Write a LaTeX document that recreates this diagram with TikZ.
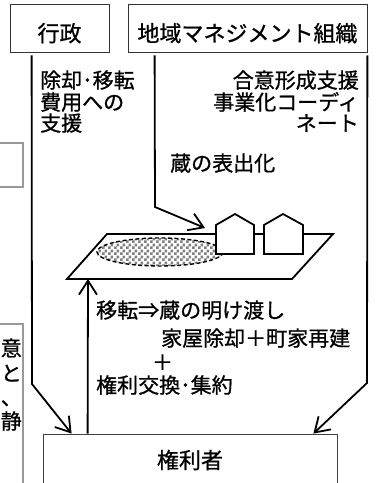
\documentclass[tikz,border=0pt]{standalone}
\usepackage{fontspec}
\newfontfamily\cjk[FakeBold=0.9]{Noto Sans CJK JP}
\usetikzlibrary{arrows.meta,patterns,calc}
\pgfdeclarepatternformonly{kurapat}{\pgfpointorigin}{\pgfqpoint{6pt}{6pt}}{\pgfqpoint{6pt}{6pt}}{%
  \pgfpathrectangle{\pgfpointorigin}{\pgfqpoint{3pt}{3pt}}%
  \pgfpathrectangle{\pgfqpoint{3pt}{3pt}}{\pgfqpoint{3pt}{3pt}}%
  \pgfusepath{fill}}
\tikzset{
  jfont/.style={font=\cjk\fontsize{21}{21}\selectfont},
  boxfont/.style={font=\cjk\fontsize{22}{22}\selectfont},
  orgbox/.style={draw=black!80, line width=0.8pt, inner sep=0pt, minimum height=48pt,
    text height=29.5pt, text depth=2.5pt, boxfont},
  ownerbox/.style={draw=black!75, line width=0.8pt, inner sep=0pt, minimum height=52pt, boxfont},
  sidebox/.style={draw=black!40, line width=1.2pt, inner sep=0pt, minimum width=63pt},
  lbl/.style={inner sep=0pt, jfont},
  arr/.style={line width=1.8pt, -{Straight Barb[length=14pt,width=18pt]}},
  siteline/.style={line width=1.8pt, line join=miter},
}
\begin{document}
\begin{tikzpicture}[x=1pt,y=-1pt]
\useasboundingbox (0,0) rectangle (378,483);
\clip (0,0) rectangle (378,483);

% boxes
\node[orgbox, minimum width=99pt] (gyosei) at (59.5,28) {行政};
\node[orgbox, minimum width=239pt] (chiiki) at (247.5,28) {地域マネジメント組織};
\node[ownerbox, minimum width=294pt] (kenri) at (190,460) {権利者};
\node[sidebox, minimum height=44pt] (sideA) at (-8.5,165) {};
\node[sidebox, minimum height=196pt] (sideB) at (-8.5,422) {};

% text cut at the left side
\node[lbl, anchor=base east] (sb1) at (22,356) {意};
\node[lbl, anchor=base east] (sb2) at (22,381) {と};
\node[lbl, anchor=base east] (sb3) at (22,405) {、};
\node[lbl, anchor=base east] (sb4) at (22,429) {静};

% site: parallelogram, kura area, houses
\draw[siteline] (107,234) coordinate (pTL) -- (333,234) coordinate (pTR)
  -- (292,279) coordinate (pBR) -- (67,279) coordinate (pBL) -- cycle;
\fill[pattern=kurapat, pattern color=black!50] (160,252) ellipse [x radius=63, y radius=14];
\draw[line width=1.4pt, dash pattern=on 4pt off 2.5pt] (160,252) coordinate (kura) ellipse [x radius=63, y radius=14];
\draw[siteline, fill=white] (216,254) -- (216,225) -- (235,214) -- (254,225) -- (254,254) -- cycle;
\draw[siteline, fill=white] (264,254) -- (264,225) -- (283,214) -- (303,225) -- (303,254) -- cycle;
\coordinate (house) at (205,228);
\coordinate (siteB) at (88,279);

% connectors
\draw[arr] ($(gyosei.south west)+(22,3)$) -- (32,384) -- ($(kenri.north west)+(29,0)$);
\draw[arr] ($(chiiki.south east)+(0,3)$) -- (367,383) -- ($(kenri.north east)+(-24,0)$);
\draw[arr] ($(chiiki.south west)+(27,3)$) -- (155,207) -- (house);
\draw[arr] ($(kenri.north west)+(45,0)$) -- (siteB);

% labels
\node[lbl, anchor=base west] (l1) at (40,88) {除却･移転};
\node[lbl, anchor=base west] (l2) at (40,110) {費用への};
\node[lbl, anchor=base west] (l3) at (40,131) {支援};
\node[lbl, anchor=base east] (r1) at (359,88) {合意形成支援};
\node[lbl, anchor=base east] (r2) at (359,110) {事業化コーディ};
\node[lbl, anchor=base east] (r3) at (359,131) {ネート};
\node[lbl, anchor=base west] (m1) at (170,171) {蔵の表出化};
\node[lbl, anchor=base west] (b1) at (96,318) {移転⇒蔵の明け渡し};
\node[lbl, anchor=base west] (b2) at (161,346) {家屋除却＋町家再建};
\node[lbl, anchor=base] (b3) at (162.5,370) {＋};
\node[lbl, anchor=base west] (b4) at (96,393) {権利交換･集約};
\end{tikzpicture}
\end{document}
